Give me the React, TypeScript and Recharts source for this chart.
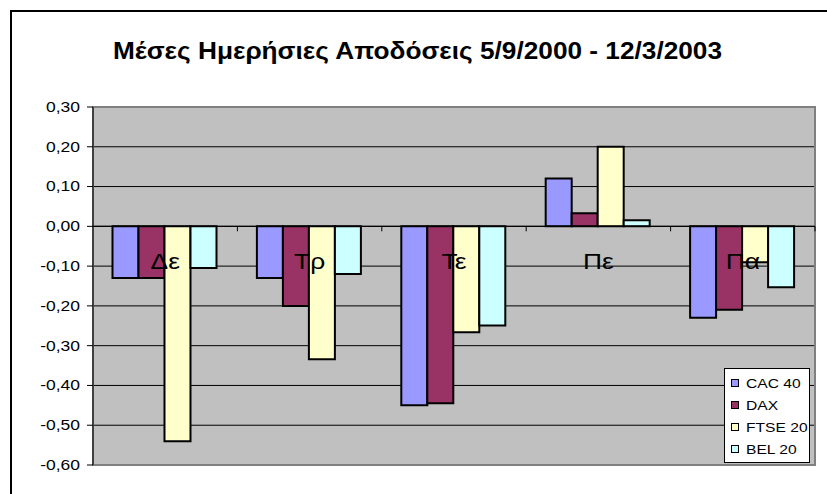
import {
  Bar,
  BarChart,
  CartesianGrid,
  ReferenceArea,
  ReferenceDot,
  ReferenceLine,
  XAxis,
  YAxis,
} from "recharts";

const DAYS = ["Δε", "Τρ", "Τε", "Πε", "Πα"];
const CAC40 = [-0.13, -0.13, -0.45, 0.12, -0.23];
const DAX = [-0.13, -0.2, -0.445, 0.033, -0.21];
const FTSE20 = [-0.54, -0.334, -0.266, 0.2, -0.09];
const BEL20 = [-0.105, -0.12, -0.249, 0.015, -0.153];
const Y_TICKS = [0.3, 0.2, 0.1, 0, -0.1, -0.2, -0.3, -0.4, -0.5, -0.6];

const SERIES = [
  { key: "cac", name: "CAC 40", color: "#9999FF", values: CAC40 },
  { key: "dax", name: "DAX", color: "#993366", values: DAX },
  { key: "ftse", name: "FTSE 20", color: "#FFFFCC", values: FTSE20 },
  { key: "bel", name: "BEL 20", color: "#CCFFFF", values: BEL20 },
];

const data = DAYS.map((day, i) => {
  const row: Record<string, string | number> = { day };
  SERIES.forEach((s) => (row[s.key] = s.values[i]));
  return row;
});

const FONT = '"Liberation Sans", Arial, sans-serif';
const fmt = (v: number) => v.toFixed(2).replace(".", ",");

function YTick({ x, y, payload }: any) {
  return (
    <text
      transform={`translate(${x},${y}) scale(1.25,1)`}
      textAnchor="end"
      dy="0.35em"
      fontSize={14}
      fontFamily={FONT}
      fill="#000"
    >
      {fmt(payload.value)}
    </text>
  );
}

function DayLabel({ viewBox, value }: any) {
  const cx = viewBox.x + viewBox.width / 2;
  const cy = viewBox.y + viewBox.height / 2;
  return (
    <text
      transform={`translate(${cx},${cy + 43}) scale(1.2,1)`}
      textAnchor="middle"
      fontSize={22}
      fontFamily={FONT}
      fill="#000"
    >
      {value}
    </text>
  );
}

// zero line with the little marks between the days
function ZeroLine(props: any) {
  const { x1, x2, y1 } = props;
  const n = DAYS.length;
  return (
    <g>
      <line x1={x1} x2={x2} y1={y1} y2={y1} stroke="#000" strokeWidth={1.2} />
      {DAYS.map((_, i) => {
        const x = x1 + ((x2 - x1) * (i + 1)) / n;
        return <line key={i} x1={x} x2={x} y1={y1} y2={y1 + 5} stroke="#000" />;
      })}
    </g>
  );
}

function LegendBox() {
  return (
    <div
      style={{
        position: "absolute",
        left: 724,
        top: 368,
        width: 86,
        height: 95,
        border: "1px solid #000",
        background: "#fff",
        fontFamily: FONT,
        fontSize: 13,
        paddingTop: 3,
        boxSizing: "border-box",
      }}
    >
      {SERIES.map((s) => (
        <div key={s.key} style={{ display: "flex", alignItems: "center", height: 22, paddingLeft: 6 }}>
          <span
            style={{
              width: 6,
              height: 6,
              background: s.color,
              border: "1px solid #000",
              marginRight: 7,
            }}
          />
          <span style={{ display: "inline-block", transform: "scaleX(1.2)", transformOrigin: "left" }}>
            {s.name}
          </span>
        </div>
      ))}
    </div>
  );
}

export default function App() {
  return (
    <div
      style={{
        position: "absolute",
        left: 0,
        top: 0,
        width: 827,
        height: 494,
        overflow: "hidden",
        background: "#fff",
      }}
    >
      <div
        style={{
          position: "absolute",
          left: 10,
          top: 10,
          width: 840,
          height: 520,
          border: "2px solid #000",
        }}
      />
      <svg width={827} height={80} style={{ position: "absolute", left: 0, top: 0 }}>
        <text
          x={113}
          y={59}
          textLength={609}
          lengthAdjust="spacingAndGlyphs"
          fontSize={23}
          fontWeight="bold"
          fontFamily={FONT}
          fill="#000"
        >
          Μέσες Ημερήσιες Αποδόσεις 5/9/2000 - 12/3/2003
        </text>
      </svg>
      <div style={{ position: "absolute", left: 0, top: 0 }}>
        <BarChart
          width={827}
          height={494}
          data={data}
          margin={{ top: 107, right: 12, bottom: 29, left: 33 }}
          barCategoryGap="13.5%"
          barGap={0}
        >
          <CartesianGrid vertical={false} stroke="#000" fill="#C0C0C0" />
          <XAxis dataKey="day" hide />
          <YAxis
            width={60}
            domain={[-0.6, 0.3]}
            ticks={Y_TICKS}
            interval={0}
            tickSize={6}
            tickMargin={7}
            tick={<YTick />}
            stroke="#000"
          />
          <ReferenceArea y1={-0.6} y2={0.3} fill="none" stroke="#808080" strokeWidth={2} />
          {SERIES.map((s) => (
            <Bar
              key={s.key}
              dataKey={s.key}
              name={s.name}
              fill={s.color}
              stroke="#000"
              strokeWidth={2}
              isAnimationActive={false}
            />
          ))}
          <ReferenceLine y={0} shape={<ZeroLine />} />
          {DAYS.map((d) => (
            <ReferenceDot
              key={d}
              x={d}
              y={0}
              r={0.1}
              fill="none"
              stroke="none"
              label={<DayLabel value={d} />}
            />
          ))}
        </BarChart>
      </div>
      <LegendBox />
    </div>
  );
}
